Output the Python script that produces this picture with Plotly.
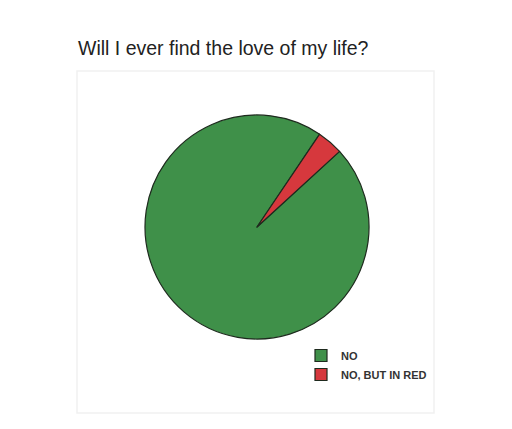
import plotly.graph_objects as go

labels = ["NO", "NO, BUT IN RED"]
values = [96.25, 3.75]
colors = ["#3f9049", "#d6383d"]
title_text = "Will I ever find the love of my life?"

# figure sits inside the page body's 8px margin
W, H = 496, 413

fig = go.Figure(go.Pie(
    labels=labels,
    values=values,
    sort=False,
    direction="clockwise",
    rotation=47.5,
    marker=dict(colors=colors, line=dict(color="#1e2a1e", width=1.2)),
    textinfo="none",
    hoverinfo="none",
    domain=dict(x=[137 / W, 361 / W], y=[1 - 331 / H, 1 - 107 / H]),
))

fig.update_layout(
    width=W, height=H,
    margin=dict(l=0, r=0, t=0, b=0),
    paper_bgcolor="white",
    plot_bgcolor="white",
    title=dict(
        text=title_text,
        x=70 / W, xanchor="left", xref="paper",
        y=1 - 40 / H, yanchor="middle", yref="paper",
        font=dict(family="Liberation Sans, Arial, sans-serif", size=19.5, color="#222222"),
    ),
    legend=dict(
        x=293 / W, y=1 - 333 / H, xanchor="left", yanchor="top",
        font=dict(family="Liberation Sans, Arial, sans-serif", size=11, color="#333333", weight="bold"),
        bgcolor="rgba(0,0,0,0)",
        itemwidth=30,
        itemclick=False,
    ),
    shapes=[dict(
        type="rect", xref="paper", yref="paper",
        x0=69 / W, x1=426 / W, y0=1 - 405 / H, y1=1 - 63 / H,
        line=dict(color="#f1f1f1", width=1.5),
        layer="below",
    )],
)

fig.write_html("out.html")
